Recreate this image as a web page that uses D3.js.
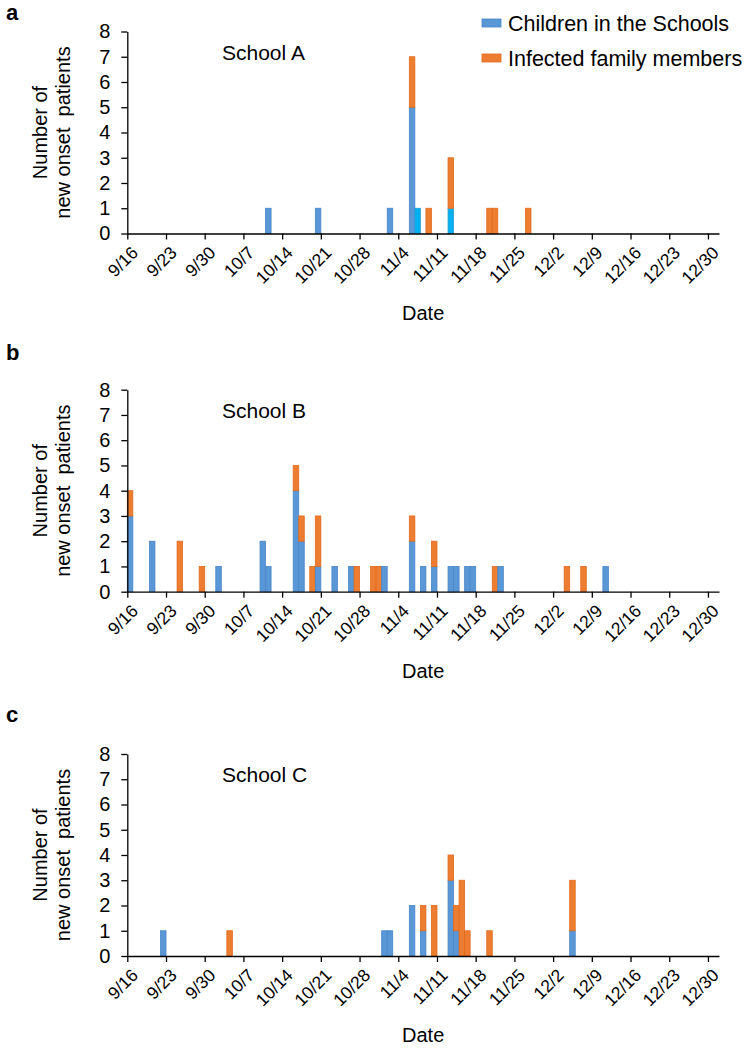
<!DOCTYPE html>
<html>
<head>
<meta charset="utf-8">
<script src="https://cdn.jsdelivr.net/npm/d3@7"></script>
<style>
  body { margin: 0; background: #fff; }
  text { font-family: Arial, "Liberation Sans", sans-serif; fill: #000; }
</style>
</head>
<body>
<svg id="chart" width="749" height="1060"></svg>
<script>
// ---------- data ----------
const tickLabels = ["9/16","9/23","9/30","10/7","10/14","10/21","10/28","11/4","11/11","11/18","11/25","12/2","12/9","12/16","12/23","12/30"];
const yTicks = [0,1,2,3,4,5,6,7,8];
const seriesNames = ["Children in the Schools", "Infected family members"];
const panelLetters = ["a","b","c"];
const schoolNames = ["School A","School B","School C"];

// School A
const datesA    = ["10/11","10/20","11/2","11/6","11/7","11/9","11/13","11/20","11/21","11/27"];
const childrenA = [1,1,1,5,0,0,0,0,0,0];
const childrenHighlightA = [0,0,0,0,1,0,1,0,0,0];
const familyA   = [0,0,0,2,0,1,2,1,1,1];

// School B
const datesB    = ["9/16","9/20","9/25","9/29","10/2","10/10","10/11","10/16","10/17","10/19","10/20","10/23","10/26","10/27","10/30","10/31","11/1","11/6","11/8","11/10","11/13","11/14","11/16","11/17","11/21","11/22","12/4","12/7","12/11"];
const childrenB = [3,2,0,0,1,2,1,4,2,0,1,1,1,0,0,0,1,2,1,1,1,1,1,1,0,1,0,0,1];
const familyB   = [1,0,2,1,0,0,0,1,1,1,2,0,0,1,1,1,0,1,0,1,0,0,0,0,1,0,1,1,0];

// School C
const datesC    = ["9/22","10/4","11/1","11/2","11/6","11/8","11/10","11/13","11/14","11/15","11/16","11/20","12/5"];
const childrenC = [1,0,1,1,2,1,0,3,1,0,0,0,1];
const familyC   = [0,1,0,0,0,1,2,1,1,3,1,1,2];

// ---------- layout ----------
const svg = d3.select("#chart");
const parse = s => { const [m, d] = s.split("/").map(Number); return new Date(2019, m - 1, d); };
const x = d3.scaleTime().domain([new Date(2019, 8, 16), new Date(2020, 0, 1)]).range([127.3, 719]);
const tickDates = tickLabels.map(parse);
const zeroY = [233.5, 591.7, 956];
const unitH = 25.25;
const colors = { child: "#5a97d6", childStroke: "#4a86c6", hi: "#00b0f0", hiStroke: "#2a9fd8", fam: "#ed7d31", famStroke: "#e06a1e" };

function drawPanel(i, dates, children, highlight, family) {
  const y = d3.scaleLinear().domain([0, 8]).range([zeroY[i], zeroY[i] - 8 * unitH]);
  const g = svg.append("g");

  // bars (stacked)
  dates.forEach((ds, j) => {
    const d0 = parse(ds);
    const d1 = d3.timeDay.offset(d0, 1);
    const segs = [
      { v: children[j], f: colors.child, s: colors.childStroke },
      { v: highlight ? highlight[j] : 0, f: colors.hi, s: colors.hiStroke },
      { v: family[j], f: colors.fam, s: colors.famStroke }
    ];
    let base = 0;
    segs.forEach(sg => {
      if (sg.v > 0) {
        g.append("rect")
          .attr("x", x(d0))
          .attr("width", x(d1) - x(d0))
          .attr("y", y(base + sg.v))
          .attr("height", y(base) - y(base + sg.v))
          .attr("fill", sg.f)
          .attr("stroke", sg.s)
          .attr("stroke-width", 0.8);
        base += sg.v;
      }
    });
  });

  // y axis
  const ya = g.append("g")
    .attr("transform", `translate(${x.range()[0]},0)`)
    .call(d3.axisLeft(y).tickValues(yTicks).tickFormat(d3.format("d")).tickSize(6).tickSizeOuter(0).tickPadding(11));
  ya.select(".domain").attr("stroke", "#000").attr("stroke-width", 1.3);
  ya.selectAll(".tick line").attr("stroke", "#000").attr("stroke-width", 1.3);
  ya.selectAll(".tick text").style("font-size", "20px").attr("font-family", "Arial, Liberation Sans, sans-serif");

  // x axis
  const xa = g.append("g")
    .attr("transform", `translate(0,${zeroY[i]})`)
    .call(d3.axisBottom(x).tickValues(tickDates).tickFormat((d, k) => tickLabels[k]).tickSize(6).tickSizeOuter(0));
  xa.select(".domain").attr("stroke", "#000").attr("stroke-width", 1.3);
  xa.selectAll(".tick line").attr("stroke", "#000").attr("stroke-width", 1.3);
  xa.selectAll(".tick text")
    .attr("x", 0).attr("y", 0).attr("dy", "0.35em")
    .attr("text-anchor", "end")
    .attr("transform", "translate(7,16) rotate(-45)")
    .style("font-size", "17.5px")
    .attr("font-family", "Arial, Liberation Sans, sans-serif");

  // titles
  const midY = (y(0) + y(8)) / 2;
  g.append("text")
    .attr("transform", `translate(47,${midY}) rotate(-90)`)
    .attr("text-anchor", "middle")
    .style("font-size", "20px")
    .text("Number of");
  g.append("text")
    .attr("transform", `translate(70,${midY}) rotate(-90)`)
    .attr("text-anchor", "middle")
    .style("font-size", "20px")
    .style("white-space", "pre")
    .text("new onset  patients");

  g.append("text")
    .attr("x", (x.range()[0] + x.range()[1]) / 2)
    .attr("y", zeroY[i] + 86)
    .attr("text-anchor", "middle")
    .style("font-size", "20px")
    .text("Date");

  g.append("text")
    .attr("x", 222)
    .attr("y", y(8) + 28)
    .style("font-size", "21px")
    .text(schoolNames[i]);
}

drawPanel(0, datesA, childrenA, childrenHighlightA, familyA);
drawPanel(1, datesB, childrenB, null, familyB);
drawPanel(2, datesC, childrenC, null, familyC);

// panel letters
const letterY = [20, 360, 722];
panelLetters.forEach((l, i) => {
  svg.append("text").attr("x", 6).attr("y", letterY[i])
    .style("font-size", "22px").style("font-weight", "bold").text(l);
});

// legend
const legColors = [[colors.child, colors.childStroke], [colors.fam, colors.famStroke]];
seriesNames.forEach((n, k) => {
  const cy = 23 + k * 35;
  svg.append("rect").attr("x", 482).attr("y", cy - 4).attr("width", 19).attr("height", 8)
    .attr("fill", legColors[k][0]).attr("stroke", legColors[k][1]).attr("stroke-width", 0.8);
  svg.append("text").attr("x", 508).attr("y", cy).attr("dy", "0.35em")
    .style("font-size", "21.5px").text(n);
});
</script>
</body>
</html>
